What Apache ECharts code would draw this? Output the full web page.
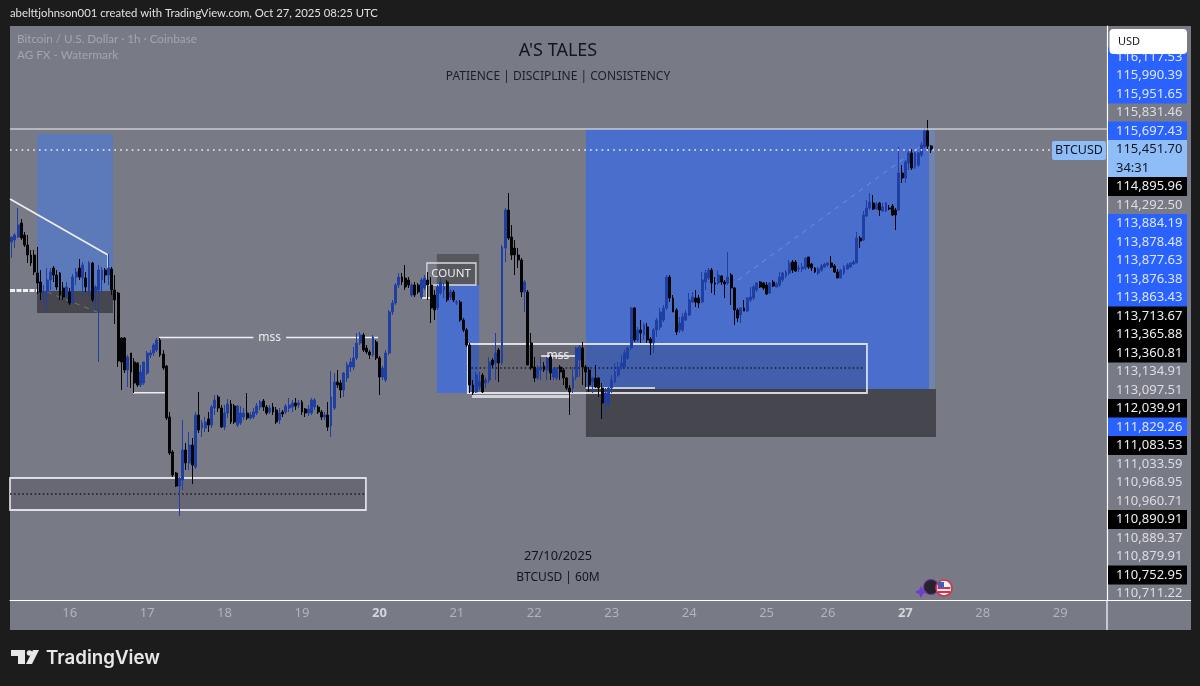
<!DOCTYPE html>
<html><head><meta charset="utf-8">
<style>html,body{margin:0;padding:0;background:#1c1c1c}#c{width:1200px;height:686px}</style>
<script src="https://cdn.jsdelivr.net/npm/echarts@6/dist/echarts.min.js"></script>
</head><body><div id="c"></div>
<script>
const opens=[112506,112570,112666,113114,112730,112410,112090,112090,111514,111226,
110810,110906,111290,111674,111450,111514,111034,110810,110906,110554,
111386,111674,111354,111354,110906,111834,110906,110970,111290,111610,
111450,111642,110970,110874,109434,109434,108410,108954,108666,108634,
107930,107994,108314,108890,108954,109050,109370,108922,108538,106906,
105786,105114,104698,104890,105850,105434,106010,105306,106970,106554,
106554,106842,106650,107194,107546,107194,106586,107034,107322,107258,
106650,106714,106906,107034,106874,106906,107034,107226,107418,107226,
107066,107226,107130,106810,107066,107066,107194,107226,107354,107290,
107386,107162,107034,107034,107226,107226,107066,106906,106970,106618,
107194,108026,107994,107770,108154,108506,108506,108794,109274,109530,
109114,108986,108890,109306,108794,108186,108090,108954,110266,110554,
111130,111386,111354,111290,110810,111130,111130,110746,111034,111290,
111130,110810,110394,110874,110970,111226,110746,110906,110554,110586,
110010,109690,109210,107930,107706,107866,108250,107994,108090,108730,
108634,109050,108634,112314,113530,112666,112314,112090,111930,110906,
110906,109274,108506,108154,108410,108538,108410,108826,108186,108154,
108506,108410,108154,107834,107834,108186,108730,109114,108506,108410,
108026,108154,108154,107834,107354,107354,107834,108026,108250,108506,
108506,108794,109114,110394,109370,109690,109530,109786,109402,109274,
109690,109786,110010,110394,111386,110714,110330,109690,109690,110010,
110170,110586,110714,110714,110586,111226,111354,111610,111194,111194,
111418,111226,111194,111450,111034,110330,110170,110394,110298,110650,
110714,110970,111226,111194,111130,110874,111226,111066,111130,111290,
111418,111514,111866,111866,111642,111642,111674,112026,111802,111674,
111514,111610,111706,111770,111834,111738,111546,111354,111514,111642,
111706,111802,111834,112634,112570,113338,113594,113754,113562,113754,
113498,113498,113594,113658,113530,113530,114714,114554,115034,115354,
114906,114970,115290,115546,116058,115578];
const closes=[112666,112730,113050,112634,112410,112090,111834,111546,111194,110906,
110906,111290,111546,111450,111066,110810,110746,111066,110554,111386,
111546,111386,111770,111066,111834,110650,111066,111610,111610,111450,
111674,110970,110650,108698,108666,108410,108826,108346,107994,107930,
108346,108666,108954,108954,109210,109370,108890,108474,106874,105754,
105050,104698,104954,105850,105434,106010,105370,106970,106490,106714,
106746,106650,107226,107450,107194,106586,107034,107322,106746,106746,
107258,107034,107034,106874,106970,107066,107258,107386,107226,107034,
107194,107066,106746,107034,107002,107258,107290,107354,107258,107354,
107066,107034,107162,107450,107450,107066,106906,106970,106586,107546,
108026,107930,107770,108314,108570,108666,108794,109274,109530,109050,
108986,108890,109466,108794,108186,108474,108954,110266,110554,111130,
111386,111226,111066,111130,111130,110810,110906,111290,111354,111130,
110394,110330,111066,111226,111066,110650,110906,110650,110586,110010,
109690,109210,107930,107674,108250,108026,107706,108090,108666,108570,
108954,108634,112346,113530,112634,112090,112090,111930,110906,111226,
108570,108474,108154,108474,108506,108410,108794,108314,108442,108474,
108346,108154,107834,107706,108186,109114,109146,108506,108346,107930,
108154,107866,107834,107354,107674,107834,108090,108346,108506,108634,
108954,109114,110394,109370,109690,109594,109850,109370,109274,109690,
110010,110266,110394,111386,110714,110266,109626,109914,110106,110234,
110650,110746,110586,110554,111290,111514,111610,111194,111162,111450,
111226,111162,111386,111034,110330,110074,110394,110298,110714,110746,
111066,111194,111066,111034,110842,111194,111098,111162,111386,111514,
111546,111834,111610,111578,111674,111706,111994,111706,111674,111546,
111642,111738,111802,111834,111706,111546,111354,111610,111706,111770,
111834,111866,112634,112538,113370,113594,113786,113562,113722,113530,
113626,113754,113562,113370,113370,114714,114554,115066,115354,114874,
115354,115354,115610,116058,115578,115451.7];
const lows=[111994,112314,112634,112570,112346,111834,111738,111450,110842,110650,
110554,110330,110970,111226,110970,110650,110650,110714,110490,110522,
111130,111290,110746,110906,110778,110586,110330,108666,110874,111194,
111130,110810,109882,108506,107770,108314,107866,107834,107674,107866,
107866,107930,108250,108794,108858,108986,108826,108410,106810,105690,
104986,104666,103738,104570,105210,105210,104762,105242,106394,106266,
106426,106426,106554,106970,107066,106554,106490,106874,106682,106682,
106586,106650,106810,106810,106810,106842,106970,107130,107098,106970,
107002,106970,106682,106682,106906,107002,107066,107066,107130,107194,
106970,106906,106938,106970,107130,107002,106810,106810,106458,106266,
107130,107834,107514,107546,108026,108346,108410,108730,109210,108986,
108922,108762,108826,108730,107610,108090,108026,108890,110170,110490,
111034,111130,110970,111034,110746,110746,110842,110682,110970,110650,
109914,110010,110330,110810,110714,110586,110650,110586,110490,109946,
109626,109146,107674,107610,107674,107770,107674,107834,107994,108474,
108090,108026,108570,111866,112570,111930,111450,111674,110746,110266,
108570,108410,108026,108090,108090,108346,108090,108090,108090,108090,
108090,107930,107770,106970,107674,108090,108186,107930,107866,107706,
107674,107834,107546,106842,107066,107226,107674,107994,108186,108410,
108474,108730,109050,109306,109306,109274,109370,109274,108890,108954,
109466,109690,109946,110330,110586,110266,109530,109594,109626,109978,
110138,110554,110426,110394,110554,110970,111290,110874,110810,111130,
111130,110714,111130,110490,109850,109946,109914,110298,110266,110586,
110650,110906,111034,110970,110810,110842,111066,111066,111066,111226,
111354,111450,111514,111546,111546,111546,111610,111642,111578,111514,
111450,111546,111674,111706,111674,111514,111354,111354,111450,111610,
111674,111770,111834,112314,112538,113306,113530,113530,113530,113338,
113466,113466,113530,113338,112890,113498,114394,114394,114810,114810,
114842,114906,115226,115514,115482,115354];
const highs=[112666,112794,113594,113242,112826,112730,112250,112250,112346,111610,
111130,111674,111674,111738,111610,111546,111226,111226,111034,111482,
111674,111962,111866,111546,111898,111866,111130,111770,111706,111674,
112122,111706,111450,110906,109466,109466,108890,108954,108794,108666,
108570,108666,109018,109050,109274,109434,109434,109050,108570,107066,
105850,105146,104986,106810,106074,106426,106234,107066,107706,106810,
106906,107066,107290,107610,107610,107290,107290,107482,107450,107322,
107290,107258,107194,107674,107066,107194,107354,107450,107482,107290,
107290,107354,107226,107194,107130,107322,107514,107450,107514,107450,
107450,107194,107290,107514,107514,107290,107130,107066,107386,108378,
108314,108410,108090,108346,108666,108794,109146,109594,109626,109594,
109210,109050,109530,109370,108858,108538,109050,110330,110650,111194,
111514,111514,111770,111386,111194,111226,111194,111354,111450,111546,
111386,110970,111130,111354,111194,111290,111002,110970,110650,110650,
110074,109754,109274,108090,108346,108346,108314,108186,108826,108794,
109594,109114,112410,113594,114074,113050,112570,112314,111994,111290,
110970,109594,108826,108570,108826,108666,108826,108890,108506,108506,
108570,108474,108186,107930,108506,109146,109210,109306,108570,108506,
108186,108570,108186,107994,107834,107866,108250,108634,108666,108890,
109050,109146,110426,110426,109786,110010,109914,109914,109466,109754,
110074,110394,110490,111450,111450,110810,110394,110106,110234,110330,
110874,110906,110970,110810,111546,111610,111674,111674,111386,111610,
111450,111290,112186,111514,111066,110394,110426,110650,110746,111066,
111130,111226,111258,111226,111226,111226,111290,111226,111546,111546,
111610,111930,111930,111930,111770,111834,112026,112026,111834,111706,
111706,111802,111834,111866,112058,111802,111642,111642,111770,111834,
111834,111930,112826,112698,113498,113850,114074,114010,113786,113786,
113754,113786,113690,113722,113594,115546,114970,115130,115418,115482,
115386,115386,115706,116154,116410,115610];

const dayLabels=['16','17','18','19','20','21','22','23','24','25','26','27','28','29'];
const dayBars=[18,42,66,90,114,138,162,186,210,234,253,277,301,325];
const strongDays=['20','27'];
const barSlots=340;

const priceLabels=['116,117.53','115,990.39','115,951.65','115,831.46','115,697.43','115,451.70','34:31','114,895.96','114,292.50','113,884.19','113,878.48','113,877.63','113,876.38','113,863.43','113,713.67','113,365.88','113,360.81','113,134.91','113,097.51','112,039.91','111,829.26','111,083.53','111,033.59','110,968.95','110,960.71','110,890.91','110,889.37','110,879.91','110,752.95','110,711.22'];
const priceKinds=['blue','blue','blue','plain','blue','cur','cur','black','plain','blue','blue','blue','blue','blue','black','black','black','plain','plain','black','blue','black','plain','plain','plain','black','plain','plain','black','plain'];

// zones: [barFrom, priceTop, barTo, priceBottom]
const softBlueZones=[[8.37,115962,31.92,110938]];
const blueZones=[[178.5,116122,284.8,107802],[132.3,111162,145.4,107674]];
const blueFadeZones=[[284.8,116122,286.7,107802]];
const darkZones=[[8.37,110938,31.92,110234],[178.5,107802,287,106266]];
const countZones=[[132.3,112122,145.4,111130]];
const outlineZones=[[141.9,109242,265.6,107674],[0,104954,110.3,103930]];
const countOutline=[[129.2,111834,144.4,111130]];
const thinZones=[[143.2,107610,173.7,107514]];
// lines: [barFrom, priceFrom, barTo, priceTo]
const whiteLines=[[46.2,109450,114.1,109450],[38.1,107684,48,107684],[0,113882,30.4,112090],[30.4,112090,30.4,111450],[127.4,110714,131.4,110714],[129.2,111130,129.2,110714],[164.6,108858,175.1,108858],[178.5,107834,199.9,107834]];
const thickDash=[[0,110954,8.37,110954]];
const softDash=[[11.5,110906,27,110266],[225.6,111290,283.6,115674]];
const blackDots=[[0,104442,110.3,104442],[143,108474,265,108474]];
const topLines=[[0,116122,340,116122]];
const priceDots=[[0,115451.7,322.9,115451.7]];
const noteBars=[80.5,169.8,136.7];
const notePrices=[109450,108858,111482];
const noteTexts=['mss','mss','COUNT'];

const categories=Array.from({length:barSlots},(_,i)=>{const k=dayBars.indexOf(i);return k>=0?dayLabels[k]:'';});
const candles=opens.map((o,i)=>[o,closes[i],lows[i],highs[i]]);

function rectSeries(name,rows,style,z){return {type:'custom',name,xAxisIndex:1,yAxisIndex:0,z,silent:true,clip:false,data:rows,
 renderItem(p,api){const a=api.coord([api.value(0),api.value(1)]),b=api.coord([api.value(2),api.value(3)]);
  return {type:'rect',shape:{x:a[0],y:a[1],width:b[0]-a[0],height:b[1]-a[1]},style};}};}
function lineSeries(name,rows,style,z){return {type:'custom',name,xAxisIndex:1,yAxisIndex:0,z,silent:true,clip:false,data:rows,
 renderItem(p,api){const a=api.coord([api.value(0),api.value(1)]),b=api.coord([api.value(2),api.value(3)]);
  return {type:'line',shape:{x1:a[0],y1:a[1],x2:b[0],y2:b[1]},style:Object.assign({fill:null},style)};}};}

const F='"Noto Sans",sans-serif';
const L='Lato,sans-serif';
const text=(x,y,t,size,color,align,extra)=>({type:'text',z:100,x,y,style:Object.assign({text:t,fontFamily:F,fontSize:size,fill:color,align:align||'left',verticalAlign:'middle'},extra||{})});
const PLOT='#787a85';

const rich={
 blue:{backgroundColor:'#2962ff',color:'#dfe6fb',width:71,height:19,lineHeight:19,padding:[0,0,0,8],fontFamily:F,fontSize:13},
 black:{backgroundColor:'#000000',color:'#eeeeee',width:71,height:19,lineHeight:19,padding:[0,0,0,8],fontFamily:F,fontSize:13},
 plain:{color:'#dcdde1',width:71,height:19,lineHeight:19,padding:[0,0,0,8],fontFamily:F,fontSize:13},
 cur:{backgroundColor:'#8fbdf8',color:'#131722',width:71,height:19,lineHeight:19,padding:[0,0,0,8],fontFamily:F,fontSize:13}
};

const option={
 animation:false,backgroundColor:'#1c1c1c',
 grid:[{left:10,top:26,width:1097,height:574,containLabel:false},{left:1107,top:47.75,width:1,height:555}],
 xAxis:[
  {type:'category',gridIndex:0,data:categories,axisTick:{show:false},splitLine:{show:false},
   axisLine:{show:true,onZero:false,lineStyle:{color:'#ffffff',width:1.2}},
   axisLabel:{interval:(i,v)=>v!=='',margin:7,fontFamily:F,fontSize:13,color:'#b2b4bb',
     formatter:v=>strongDays.includes(v)?'{s|'+v+'}':v,rich:{s:{fontFamily:F,fontSize:13,fontWeight:'bold',color:'#d5d6da'}}}},
  {type:'value',gridIndex:0,min:0,max:barSlots,show:false},
  {type:'value',gridIndex:1,show:false}
 ],
 yAxis:[
  {type:'value',gridIndex:0,position:'right',min:101050,max:119418,scale:true,splitLine:{show:false},axisTick:{show:false},axisLabel:{show:false},
   axisLine:{show:true,onZero:false,lineStyle:{color:'#ffffff',width:1.2}}},
  {type:'category',gridIndex:1,position:'right',inverse:true,data:priceLabels,axisLine:{show:false,onZero:false},axisTick:{show:false},splitLine:{show:false},
   axisLabel:{interval:0,margin:0,align:'left',formatter:(v,i)=>'{'+priceKinds[i]+'|'+v+'}',rich}}
 ],
 series:[
  rectSeries('softBlue',softBlueZones,{fill:'#5c79b9'},1),
  rectSeries('blue',blueZones,{fill:'#4a6ecb'},1),
  rectSeries('blueFade',blueFadeZones,{fill:'#7184ad'},1),
  rectSeries('dark',darkZones,{fill:'#46474e'},2),
  rectSeries('count',countZones,{fill:'#57585d'},2),
  rectSeries('outline',outlineZones,{fill:'rgba(35,35,50,0.2)',stroke:'rgba(240,241,248,0.85)',lineWidth:1.8},2),
  rectSeries('countOutline',countOutline,{fill:'rgba(0,0,0,0)',stroke:'#d8d9de',lineWidth:1.3},3),
  rectSeries('thin',thinZones,{fill:'#d2d3d8'},3),
  lineSeries('white',whiteLines,{stroke:'#f0f0f4',lineWidth:1.6},3),
  lineSeries('thickDash',thickDash,{stroke:'#f0f0f4',lineWidth:3,lineDash:[5,1.5]},3),
  lineSeries('softDash',softDash,{stroke:'rgba(215,220,235,0.3)',lineWidth:1,lineDash:[5,5]},3),
  lineSeries('blackDots',blackDots,{stroke:'#1a1a1a',lineWidth:1.6,lineDash:[1.5,2.6]},3),
  {type:'custom',name:'notes',xAxisIndex:1,yAxisIndex:0,z:3,silent:true,clip:false,data:noteBars.map((b,i)=>[b,notePrices[i]]),
   renderItem(p,api){const a=api.coord([api.value(0),api.value(1)]);const i=p.dataIndex;
    const isMss=noteTexts[i]==='mss';
    return {type:'text',x:a[0],y:a[1],z2:5,style:{text:noteTexts[i],fontFamily:F,fontSize:isMss?12:11.5,fill:'#eceded',align:'center',verticalAlign:'middle',
      backgroundColor:i===0?PLOT:'transparent',padding:[0,5,0,5]}};}},
  {type:'candlestick',name:'BTCUSD',xAxisIndex:0,yAxisIndex:0,z:4,data:candles,barWidth:2.4,
   itemStyle:{color:'#1f3fa3',color0:'#050505',borderColor:'#1f3fa3',borderColor0:'#050505',borderWidth:1}},
  lineSeries('top',topLines,{stroke:'#f4f4f8',lineWidth:1.2},5),
  lineSeries('priceDots',priceDots,{stroke:'#f4f4f8',lineWidth:1.6,lineDash:[1.6,4.2]},5)
 ],
 graphic:[
  {type:'rect',z:-1,shape:{x:10,y:26,width:1181,height:604},style:{fill:PLOT}},
  {type:'line',z:50,shape:{x1:1107,y1:600,x2:1107,y2:630},style:{stroke:'#fff',lineWidth:1.2}},
  {type:'line',z:50,shape:{x1:1107,y1:600.5,x2:1191,y2:600.5},style:{stroke:'#fff',lineWidth:1.2}},
  text(10,13,'abelttjohnson001 created with TradingView.com, Oct 27, 2025 08:25 UTC',11.3,'#e0e0e0','left',{fontFamily:L}),
  text(17,39,'Bitcoin / U.S. Dollar · 1h · Coinbase',11.7,'#a4a6ae','left',{fontFamily:L}),
  text(17,55,'AG FX - Watermark',11.7,'#a4a6ae','left',{fontFamily:L}),
  text(558,51,"A'S TALES",18,'#15161a','center'),
  text(558,77,'PATIENCE | DISCIPLINE | CONSISTENCY',12,'#1e1f24','center'),
  text(558,556.5,'27/10/2025',12.8,'#15161a','center'),
  text(558,578,'BTCUSD | 60M',12,'#15161a','center'),
  {type:'rect',z:100,shape:{x:1109.5,y:29,width:77.5,height:25,r:4},style:{fill:'#ffffff'}},
  text(1118,41.5,'USD',11,'#131722'),
  {type:'rect',z:100,shape:{x:1052,y:141,width:54,height:19,r:2},style:{fill:'#8fbdf8'}},
  text(1079,150.5,'BTCUSD',12.5,'#131722','center'),
  // event markers
  {type:'circle',z:100,shape:{cx:931,cy:587,r:7.5},style:{fill:'#26222e',stroke:'#6a3a98',lineWidth:1.2}},
  {type:'polygon',z:101,shape:{points:[[921,586],[923,590],[927,592],[923,594],[921,598],[919,594],[915,592],[919,590]]},style:{fill:'#6a3fd0'}},
  {type:'circle',z:102,shape:{cx:944,cy:588,r:8},style:{fill:'#f1f1f1',stroke:'#d3304a',lineWidth:1.6}},
  {type:'rect',z:103,shape:{x:937.5,y:587,width:13,height:2},style:{fill:'#d3304a'}},
  {type:'rect',z:103,shape:{x:938,y:591,width:12,height:2},style:{fill:'#d3304a'}},
  {type:'rect',z:104,shape:{x:938,y:582,width:6,height:5.5},style:{fill:'#3a5fc0'}},
  // TradingView logo
  {type:'polygon',z:100,shape:{points:[[11,650],[25,650],[25,664],[18,664],[18,656],[11,656]]},style:{fill:'#e8e8e8'}},
  {type:'circle',z:100,shape:{cx:29.5,cy:653,r:2.8},style:{fill:'#e8e8e8'}},
  {type:'polygon',z:100,shape:{points:[[33,650],[39,650],[32,664],[26,664]]},style:{fill:'#e8e8e8'}},
  text(46,658,'TradingView',18.7,'#e8e8e8','left',{fontFamily:'Inter,sans-serif',fontWeight:600})
 ]
};
const chart=echarts.init(document.getElementById('c'),null,{renderer:'canvas',width:1200,height:686});
chart.setOption(option);
</script></body></html>
